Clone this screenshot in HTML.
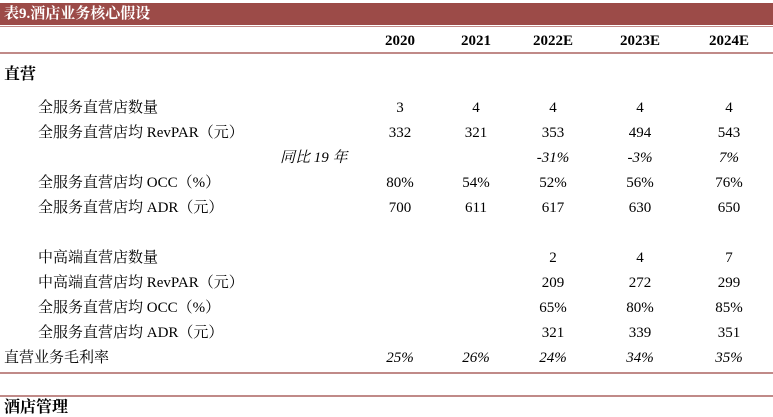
<!DOCTYPE html>
<html><head><meta charset="utf-8"><style>
body{margin:0;width:773px;height:407px;overflow:hidden;background:#fff;position:relative;font-family:"Liberation Serif","Noto Serif CJK SC",serif;color:#000}
.t{position:absolute;font-size:15px;line-height:18px;white-space:nowrap}
.c{transform:translateX(-50%)}
.i{font-style:italic}
.b{font-weight:bold}
.ln{position:absolute;left:0;width:773px;height:1.5px;background:#c08a88}
</style></head><body>
<div style="position:absolute;left:0;top:3px;width:773px;height:22px;background:#9c4b48"></div>
<div class="t b" style="left:4px;top:5px;color:#fff;font-size:15px">表9.酒店业务核心假设</div>
<div class="ln" style="top:26px;height:1px"></div>
<div class="ln" style="top:52px"></div>
<div class="ln" style="top:372px"></div>
<div class="ln" style="top:395px"></div>
<div id="tbl"></div>
<div class="t b" style="left:4px;top:66px;font-size:16px">直营</div>
<div class="t b" style="left:4px;top:399px;font-size:16px">酒店管理</div>
<script>
const years=["2020","2021","2022E","2023E","2024E"];
const colX=[400,476,553,640,729];
const rowLabels=["全服务直营店数量","全服务直营店均 RevPAR（元）","同比 19 年","全服务直营店均 OCC（%）","全服务直营店均 ADR（元）","中高端直营店数量","中高端直营店均 RevPAR（元）","全服务直营店均 OCC（%）","全服务直营店均 ADR（元）","直营业务毛利率"];
const rowY=[99,124,149,174,199,249,274,299,324,349];
const values=[
["3","4","4","4","4"],
["332","321","353","494","543"],
["","","-31%","-3%","7%"],
["80%","54%","52%","56%","76%"],
["700","611","617","630","650"],
["","","2","4","7"],
["","","209","272","299"],
["","","65%","80%","85%"],
["","","321","339","351"],
["25%","26%","24%","34%","35%"]];
const italicRows=[2,9];
const tbl=document.getElementById('tbl');
years.forEach((y,j)=>{const d=document.createElement('div');d.className='t c b';


d.style.left=colX[j]+'px';d.style.top='32px';d.textContent=y;tbl.appendChild(d);});
rowLabels.forEach((l,i)=>{const d=document.createElement('div');
d.className='t'+(i===2?' i':'');


d.style.left=(i===2?280:(i===9?4:38))+'px';d.style.top=rowY[i]+'px';d.textContent=l;tbl.appendChild(d);
values[i].forEach((v,j)=>{if(!v)return;const e=document.createElement('div');
e.className='t c'+(italicRows.includes(i)?' i':'');


e.style.left=colX[j]+'px';e.style.top=rowY[i]+'px';e.textContent=v;tbl.appendChild(e);});});
</script>
</body></html>
